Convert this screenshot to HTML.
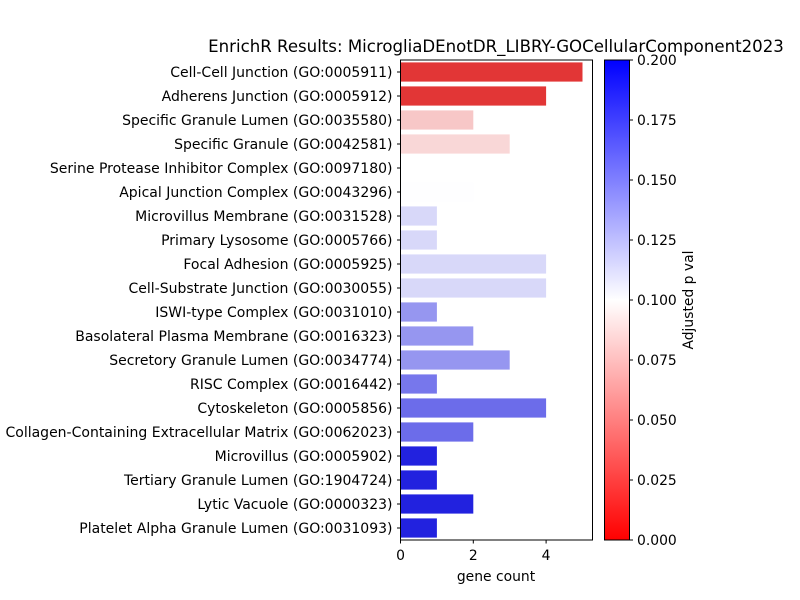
<!DOCTYPE html>
<html><head><meta charset="utf-8"><style>
body{margin:0;background:#fff;}
svg{display:block;font-family:"DejaVu Sans","Liberation Sans",sans-serif;}
</style></head><body>
<svg id="chart" width="800" height="600" xmlns="http://www.w3.org/2000/svg">
<defs><linearGradient id="cb" x1="0" y1="1" x2="0" y2="0">
<stop offset="0" stop-color="#ff0000"/><stop offset="0.5" stop-color="#ffffff"/><stop offset="1" stop-color="#0000ff"/>
</linearGradient></defs>
<text x="496" y="52" font-size="16.6" text-anchor="middle">EnrichR Results: MicrogliaDEnotDR_LIBRY-GOCellularComponent2023</text>
<g id="bars"></g>
<g id="yaxis"></g>
<g id="xaxis"></g>
<rect x="400.5" y="60" width="192" height="480" fill="none" stroke="#000" stroke-width="1"/>
<text x="496" y="581" font-size="13.9" text-anchor="middle">gene count</text>
<rect x="604.5" y="60" width="25" height="480" fill="url(#cb)" stroke="#000" stroke-width="1"/>
<g id="cbaxis"></g>
<text transform="translate(693,300) rotate(-90)" font-size="13.9" text-anchor="middle">Adjusted p val</text>
</svg>
<script>
const categories=["Cell-Cell Junction (GO:0005911)","Adherens Junction (GO:0005912)","Specific Granule Lumen (GO:0035580)","Specific Granule (GO:0042581)","Serine Protease Inhibitor Complex (GO:0097180)","Apical Junction Complex (GO:0043296)","Microvillus Membrane (GO:0031528)","Primary Lysosome (GO:0005766)","Focal Adhesion (GO:0005925)","Cell-Substrate Junction (GO:0030055)","ISWI-type Complex (GO:0031010)","Basolateral Plasma Membrane (GO:0016323)","Secretory Granule Lumen (GO:0034774)","RISC Complex (GO:0016442)","Cytoskeleton (GO:0005856)","Collagen-Containing Extracellular Matrix (GO:0062023)","Microvillus (GO:0005902)","Tertiary Granule Lumen (GO:1904724)","Lytic Vacuole (GO:0000323)","Platelet Alpha Granule Lumen (GO:0031093)"];
const counts=[5,4,2,3,1,2,1,1,4,4,1,2,3,1,4,2,1,1,2,1];
const pvals=[0.01,0.01,0.075,0.082,0.1,0.1005,0.1175,0.1175,0.1175,0.1175,0.147,0.147,0.147,0.161,0.166,0.166,0.199,0.199,0.199,0.199];
const xTicks=[0,2,4];
const cbTicks=[0,0.025,0.05,0.075,0.1,0.125,0.15,0.175,0.2];
const NS="http://www.w3.org/2000/svg";
const x0=400.5,xs=36.4,plotTop=60,step=24,bh=19.2;
const X=v=>x0+v*xs;
const Y=i=>plotTop+step*(i+0.5);
const CB=p=>540-p/0.2*480;
function mk(t,a,parent){const e=document.createElementNS(NS,t);for(const k in a)e.setAttribute(k,a[k]);parent.appendChild(e);return e;}
function color(p){
 let r,g,b;const f=p/0.1;
 if(f<=1){r=1;g=f;b=f;}else{const u=Math.max(0,2-f);r=u;g=u;b=1;}
 const mx=Math.max(r,g,b),mn=Math.min(r,g,b),l=(mx+mn)/2;
 const s0=mx-mn;const C=s0*0.75;
 if(s0===0)return `rgb(${Math.round(r*255)},${Math.round(g*255)},${Math.round(b*255)})`;
 const conv=c=>Math.round(255*(l+(c-l)*(C/s0)));
 return `rgb(${conv(r)},${conv(g)},${conv(b)})`;
}
const bars=document.getElementById('bars'),ya=document.getElementById('yaxis'),xa=document.getElementById('xaxis'),ca=document.getElementById('cbaxis');
categories.forEach((c,i)=>{
 const r=mk('rect',{x:X(0),y:Y(i)-bh/2,width:X(counts[i])-X(0),height:bh,fill:color(pvals[i])},bars);
 
 
 mk('line',{x1:x0-3.5,x2:x0,y1:Y(i),y2:Y(i),stroke:'#000'},ya);
 const t=mk('text',{x:x0-8,y:Y(i)+5,'font-size':14,'text-anchor':'end'},ya);
 t.textContent=c;
 
 
});
xTicks.forEach(v=>{
 mk('line',{x1:X(v),x2:X(v),y1:540,y2:543.5,stroke:'#000'},xa);
 const t=mk('text',{x:X(v),y:560,'font-size':13.9,'text-anchor':'middle'},xa);
 t.textContent=v;
 
 
});
cbTicks.forEach(v=>{
 mk('line',{x1:629.5,x2:633,y1:CB(v),y2:CB(v),stroke:'#000'},ca);
 const t=mk('text',{x:637,y:CB(v)+5,'font-size':13.9},ca);
 t.textContent=v.toFixed(3);
 
 
});
</script>
</body></html>
